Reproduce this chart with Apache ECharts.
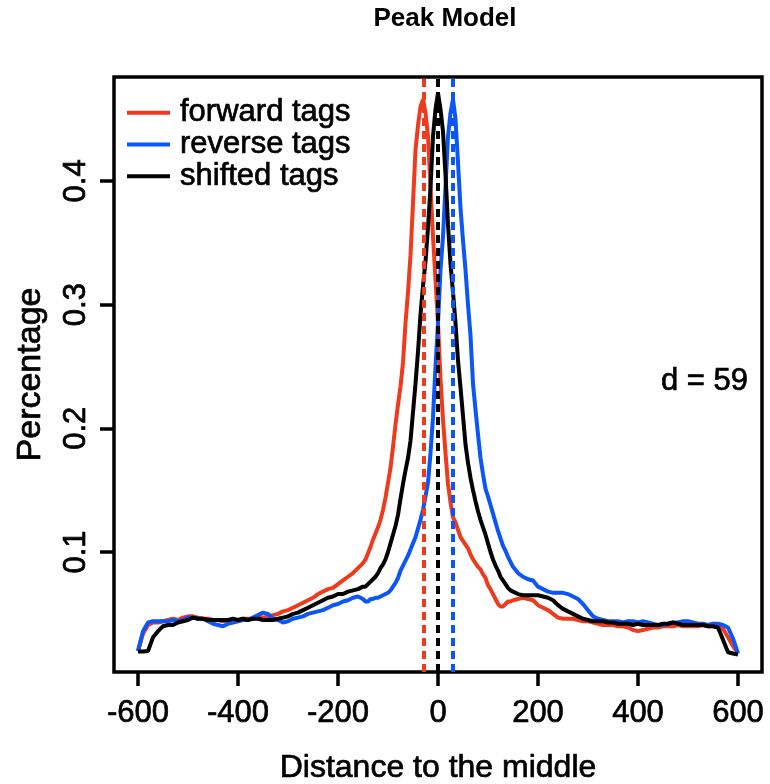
<!DOCTYPE html>
<html>
<head>
<meta charset="utf-8">
<script src="https://cdn.jsdelivr.net/npm/echarts@6/dist/echarts.min.js"></script>
<style>html,body{margin:0;padding:0;background:#fff;}#c{width:770px;height:784px;}</style>
</head>
<body>
<div id="c"></div>
<script>
const xs = [
 -600,-590,-580,-570,-560,-550,-540,-530,-520,-510,
 -500,-490,-480,-470,-460,-450,-440,-430,-420,-410,
 -400,-390,-380,-370,-360,-350,-340,-330,-320,-310,
 -300,-290,-280,-270,-260,-250,-240,-230,-220,-210,
 -200,-190,-180,-170,-160,
 -150,-145,-140,-135,-130,-125,-120,-115,-110,-105,
 -100,-95,-90,-85,-80,-75,-70,-65,-60,-55,
 -50,-45,-40,-35,-30,-25,-20,-15,-10,-5,
 0,5,10,15,20,25,30,35,40,45,
 50,55,60,65,70,75,80,85,90,95,
 100,105,110,115,120,125,130,135,140,145,
 150,
 160,170,180,190,200,210,220,230,240,250,
 260,270,280,290,300,310,320,330,340,350,
 360,370,380,390,400,410,420,430,440,450,
 460,470,480,490,500,510,520,530,540,550,
 560,570,580,590,600
];
const forwardTags = [
 0.020,0.034,0.041,0.043,0.043,0.044,0.045,0.046,0.045,0.047,
 0.048,0.048,0.047,0.046,0.046,0.045,0.045,0.044,0.044,0.045,
 0.045,0.046,0.046,0.046,0.047,0.047,0.048,0.049,0.050,0.052,
 0.053,0.055,0.057,0.059,0.061,0.063,0.066,0.068,0.070,0.071,
 0.074,0.077,0.080,0.083,0.087,
 0.091,0.094,0.099,0.104,0.110,0.115,0.120,0.126,0.134,0.144,
 0.156,0.168,0.185,0.203,0.219,0.234,0.253,0.285,0.310,0.340,
 0.382,0.425,0.445,0.460,0.466,0.455,0.436,0.395,0.355,0.320,
 0.285,0.240,0.207,0.180,0.155,0.140,0.128,0.124,0.118,0.112,
 0.109,0.106,0.103,0.098,0.094,0.091,0.088,0.086,0.082,0.079,
 0.073,0.070,0.066,0.062,0.058,0.056,0.056,0.058,0.060,0.060,
 0.061,
 0.062,0.063,0.062,0.061,0.057,0.055,0.053,0.050,0.047,0.046,
 0.046,0.046,0.045,0.044,0.044,0.043,0.042,0.041,0.041,0.041,
 0.040,0.040,0.039,0.037,0.036,0.037,0.038,0.039,0.039,0.040,
 0.040,0.040,0.041,0.040,0.040,0.040,0.040,0.041,0.040,0.040,
 0.039,0.038,0.031,0.024,0.018
];
const reverseTags = [
 0.020,0.036,0.043,0.044,0.044,0.044,0.044,0.045,0.044,0.045,
 0.047,0.047,0.046,0.046,0.044,0.042,0.041,0.040,0.042,0.043,
 0.044,0.045,0.045,0.047,0.049,0.051,0.050,0.046,0.045,0.043,
 0.044,0.046,0.047,0.048,0.050,0.051,0.052,0.053,0.055,0.057,
 0.058,0.060,0.061,0.063,0.064,
 0.062,0.060,0.060,0.062,0.062,0.063,0.063,0.064,0.065,0.066,
 0.067,0.069,0.072,0.075,0.079,0.085,0.089,0.093,0.097,0.102,
 0.107,0.112,0.119,0.126,0.134,0.145,0.156,0.180,0.209,0.250,
 0.285,0.328,0.355,0.395,0.436,0.455,0.466,0.450,0.415,0.378,
 0.352,0.328,0.300,0.275,0.236,0.215,0.195,0.176,0.163,0.151,
 0.145,0.138,0.131,0.124,0.117,0.111,0.105,0.101,0.096,0.092,
 0.088,
 0.083,0.080,0.078,0.077,0.072,0.070,0.068,0.067,0.067,0.067,
 0.066,0.064,0.062,0.058,0.053,0.048,0.046,0.045,0.044,0.044,
 0.044,0.043,0.044,0.044,0.043,0.044,0.043,0.042,0.041,0.041,
 0.042,0.043,0.043,0.044,0.044,0.043,0.042,0.042,0.041,0.042,
 0.042,0.041,0.039,0.030,0.018
];
const shiftedTags = [
 0.0195,0.0195,0.020,0.031,0.036,0.040,0.041,0.041,0.043,0.044,
 0.045,0.047,0.046,0.046,0.045,0.045,0.045,0.045,0.045,0.046,
 0.045,0.046,0.045,0.046,0.046,0.045,0.045,0.045,0.046,0.047,
 0.048,0.050,0.051,0.053,0.055,0.057,0.059,0.061,0.063,0.064,
 0.066,0.066,0.068,0.069,0.070,
 0.072,0.072,0.074,0.076,0.078,0.080,0.083,0.087,0.090,0.094,
 0.100,0.107,0.114,0.121,0.130,0.143,0.155,0.166,0.176,0.190,
 0.213,0.236,0.262,0.292,0.315,0.335,0.362,0.395,0.436,0.458,
 0.471,0.458,0.440,0.405,0.365,0.333,0.310,0.285,0.255,0.233,
 0.210,0.187,0.172,0.160,0.150,0.141,0.133,0.126,0.120,0.114,
 0.107,0.100,0.094,0.089,0.085,0.080,0.077,0.074,0.071,0.069,
 0.068,
 0.066,0.065,0.065,0.065,0.065,0.064,0.063,0.061,0.057,0.054,
 0.052,0.050,0.048,0.046,0.045,0.044,0.044,0.044,0.043,0.043,
 0.042,0.042,0.042,0.041,0.042,0.041,0.041,0.041,0.041,0.042,
 0.042,0.043,0.042,0.041,0.041,0.041,0.041,0.041,0.040,0.040,
 0.039,0.029,0.019,0.018,0.017
];
const seriesNames = ['forward tags', 'reverse tags', 'shifted tags'];
const peakLines = [-29.5, 29.5, 0];
const xTicks = [-600, -400, -200, 0, 200, 400, 600];
const yTicks = [0.1, 0.2, 0.3, 0.4];
const shiftLabel = 'd = 59';

const colors = ['#ef3b1d', '#0c55f6', '#000000'];
const FONT = '"Liberation Sans", Arial, Helvetica, sans-serif';
const valueSets = [forwardTags, reverseTags, shiftedTags];
const heavy = {textBorderColor: '#000', textBorderWidth: 0.7};

const chart = echarts.init(document.getElementById('c'), null, {renderer: 'canvas'});
const series = seriesNames.map((name, k) => ({
  name: name,
  type: 'line',
  data: xs.map((x, i) => [x, valueSets[k][i]]),
  showSymbol: false,
  symbol: 'none',
  lineStyle: {width: 4, color: colors[k]},
  itemStyle: {color: colors[k]},
  z: 2 + k,
  markLine: {
    silent: true,
    symbol: 'none',
    label: {show: false},
    lineStyle: {type: [8, 5], width: 4, color: colors[k]},
    data: [{xAxis: peakLines[k]}],
    z: 10
  }
}));

chart.setOption({
  animation: false,
  backgroundColor: '#ffffff',
  grid: {left: 114, right: 8, top: 77, bottom: 112, outerBoundsMode: 'none', containLabel: false,
    show: true, borderColor: '#000', borderWidth: 3.5, backgroundColor: 'transparent'},
  legend: {
    orient: 'vertical', left: 122, top: 92,
    itemWidth: 43, itemHeight: 4, itemGap: 0,
    icon: 'rect',
    textStyle: Object.assign({fontFamily: FONT, fontSize: 31, color: '#000', lineHeight: 31, padding: [0, 0, 0, 5]}, heavy),
    data: seriesNames
  },
  xAxis: {
    type: 'value', min: -648, max: 648,
    name: 'Distance to the middle', nameLocation: 'middle', nameGap: 80,
    nameTextStyle: Object.assign({fontFamily: FONT, fontSize: 32, color: '#000'}, heavy),
    axisLine: {show: false, onZero: false},
    splitLine: {show: false},
    axisTick: {show: true, customValues: xTicks, length: 14, lineStyle: {color: '#000', width: 3.5}},
    axisLabel: Object.assign({customValues: xTicks, fontFamily: FONT, fontSize: 31, color: '#000', margin: 26}, heavy)
  },
  yAxis: {
    type: 'value', min: 0.003, max: 0.484,
    name: 'Percentage', nameLocation: 'middle', nameGap: 66,
    nameTextStyle: Object.assign({fontFamily: FONT, fontSize: 34, color: '#000'}, heavy),
    axisLine: {show: false, onZero: false},
    splitLine: {show: false},
    axisTick: {show: true, customValues: yTicks, length: 14, lineStyle: {color: '#000', width: 3.5}},
    axisLabel: Object.assign({customValues: yTicks, rotate: 90, fontFamily: FONT, fontSize: 31, color: '#000', margin: 22,
      formatter: v => String(v)}, heavy)
  },
  graphic: [
    {type: 'text', x: 445, y: 19, style: {text: 'Peak Model', font: 'bold 26px ' + FONT, fill: '#000', textAlign: 'center', textVerticalAlign: 'middle'}},
    {type: 'text', x: 748, y: 381, style: {text: shiftLabel, font: '31px ' + FONT, fill: '#000', textAlign: 'right', textVerticalAlign: 'middle', stroke: '#000', lineWidth: 0.7}}
  ],
  series: series
});
</script>
</body>
</html>
